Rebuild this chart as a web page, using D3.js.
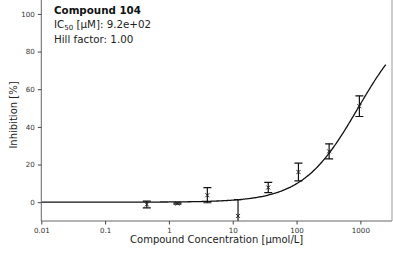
<!DOCTYPE html>
<html>
<head>
<meta charset="utf-8">
<script src="https://cdn.jsdelivr.net/npm/d3@7"></script>
<style>
  body { margin: 0; background: #fff; }
  text { font-family: "DejaVu Sans", sans-serif; }
</style>
</head>
<body>
<svg id="chart" width="393" height="262"></svg>
<script>
// measured points: concentration [umol/L], inhibition [%], error
var concs = [0.45, 1.36, 4.0, 12.1, 36, 107, 324, 965];
var inhib = [-1.2, -0.7, 3.7, -7.3, 7.8, 16.0, 27.0, 51.0];
var errs = [1.8, 0.3, 4.0, 8.7, 2.7, 4.7, 4.0, 5.5];
var xTicks = [0.01, 0.1, 1, 10, 100, 1000];
var xTickLabels = ["0.01", "0.1", "1", "10", "100", "1000"];
var yTicks = [0, 20, 40, 60, 80, 100];
var ic50 = 920;
var hill = 1.0;
var infoLines = ["Compound 104", "IC50 [µM]: 9.2e+02", "Hill factor: 1.00"];

var svg = d3.select("#chart");
var plotLeft = 41.3, plotRight = 392, plotTop = 0, plotBottom = 221;

var x = d3.scaleLog().domain([0.01, 3130]).range([plotLeft, plotRight]);
var y = d3.scaleLinear().domain([-10, 107.4]).range([plotBottom, plotTop]);

svg.append("clipPath").attr("id", "clip")
  .append("rect").attr("x", plotLeft).attr("y", plotTop)
  .attr("width", plotRight - plotLeft).attr("height", plotBottom - plotTop);

// fitted curve
var curvePts = d3.range(0, 301).map(function(i){
  var lx = -2 + i * (Math.log10(2500) + 2) / 300;
  var c = Math.pow(10, lx);
  return [c, 100 * Math.pow(c, hill) / (Math.pow(c, hill) + Math.pow(ic50, hill))];
});
var line = d3.line()
  .x(function(d){ return x(d[0]); })
  .y(function(d){ return y(d[1]); });

var plot = svg.append("g").attr("clip-path", "url(#clip)");
plot.append("path")
  .attr("d", line(curvePts))
  .attr("fill", "none")
  .attr("stroke", "#111")
  .attr("stroke-width", 1.3);

// error bars
concs.forEach(function(c, i){
  var cx = x(c), v = inhib[i], e = errs[i];
  plot.append("line")
    .attr("x1", cx).attr("x2", cx)
    .attr("y1", y(v - e)).attr("y2", y(v + e))
    .attr("stroke", "#111").attr("stroke-width", 1.2);
  [v - e, v + e].forEach(function(yy){
    plot.append("line")
      .attr("x1", cx - 4).attr("x2", cx + 4)
      .attr("y1", y(yy)).attr("y2", y(yy))
      .attr("stroke", "#111").attr("stroke-width", 1.2);
  });
  var cy = y(v);
  plot.append("path")
    .attr("d", "M" + (cx - 2) + "," + (cy - 2) + "L" + (cx + 2) + "," + (cy + 2) +
               "M" + (cx - 2) + "," + (cy + 2) + "L" + (cx + 2) + "," + (cy - 2))
    .attr("stroke", "#222").attr("stroke-width", 1);
});

// spines
var spine = "#666";
svg.append("line").attr("x1", plotLeft).attr("x2", plotLeft).attr("y1", plotTop).attr("y2", plotBottom)
  .attr("stroke", spine).attr("stroke-width", 1);
svg.append("line").attr("x1", plotLeft).attr("x2", plotRight).attr("y1", plotBottom).attr("y2", plotBottom)
  .attr("stroke", spine).attr("stroke-width", 1);
svg.append("line").attr("x1", plotRight).attr("x2", plotRight).attr("y1", plotTop).attr("y2", plotBottom)
  .attr("stroke", "#999").attr("stroke-width", 1);

// x axis
var xAxis = d3.axisBottom(x).tickValues(xTicks)
  .tickFormat(function(d, i){ return xTickLabels[i]; })
  .tickSize(3.5).tickPadding(3);
var gx = svg.append("g").attr("transform", "translate(0," + plotBottom + ")").call(xAxis);
gx.select(".domain").remove();
gx.selectAll("line").attr("stroke", "#444");
gx.selectAll("text").attr("font-size", 7.1).attr("fill", "#333")
  .attr("font-family", "DejaVu Sans");

// y axis
var yAxis = d3.axisLeft(y).tickValues(yTicks).tickSize(3.5).tickPadding(3);
var gy = svg.append("g").attr("transform", "translate(" + plotLeft + ",0)").call(yAxis);
gy.select(".domain").remove();
gy.selectAll("line").attr("stroke", "#444");
gy.selectAll("text").attr("font-size", 7.1).attr("fill", "#333")
  .attr("font-family", "DejaVu Sans");

// axis labels
svg.append("text")
  .attr("x", (plotLeft + plotRight) / 2).attr("y", 243)
  .attr("text-anchor", "middle").attr("font-size", 10).attr("fill", "#222")
  .text("Compound Concentration [µmol/L]");
svg.append("text")
  .attr("transform", "translate(17,115) rotate(-90)")
  .attr("text-anchor", "middle").attr("font-size", 10).attr("fill", "#222")
  .text("Inhibition [%]");

// info block
svg.append("text").attr("x", 54).attr("y", 13.5)
  .attr("font-size", 10.3).attr("font-weight", "bold").attr("fill", "#111")
  .text(infoLines[0]);
var ic = svg.append("text").attr("x", 54).attr("y", 28.3)
  .attr("font-size", 10.3).attr("fill", "#222");
ic.append("tspan").text("IC");
ic.append("tspan").attr("font-size", 7).attr("dy", 2).text("50");
ic.append("tspan").attr("dy", -2).text(infoLines[1].slice(4));
svg.append("text").attr("x", 54).attr("y", 43)
  .attr("font-size", 10.3).attr("fill", "#222")
  .text(infoLines[2]);
</script>
</body>
</html>
